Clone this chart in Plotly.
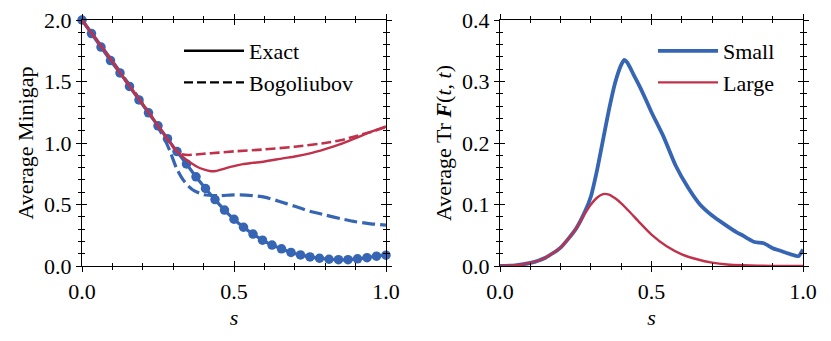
import plotly.graph_objects as go

# ---------------- data ----------------
# Left panel: Average Minigap
blue_exact_s = [k / 32 for k in range(33)]
blue_exact_y = [2.0, 1.89, 1.78, 1.67, 1.57, 1.46, 1.35, 1.245, 1.14, 1.035,
                0.93, 0.83, 0.725, 0.63, 0.54, 0.455, 0.38, 0.315, 0.26, 0.21,
                0.17, 0.14, 0.11, 0.09, 0.074, 0.063, 0.055, 0.051, 0.051,
                0.058, 0.068, 0.08, 0.088]

blue_bog_s = [0, 0.1, 0.2, 0.24, 0.27, 0.29, 0.31, 0.33, 0.35, 0.37, 0.40,
              0.45, 0.5, 0.55, 0.6, 0.65, 0.7, 0.75, 0.8, 0.85, 0.9, 0.95, 1.0]
blue_bog_y = [2.0, 1.665, 1.32, 1.17, 1.04, 0.93, 0.80, 0.71, 0.65, 0.61, 0.58,
              0.572, 0.578, 0.575, 0.56, 0.525, 0.485, 0.445, 0.415, 0.385,
              0.36, 0.343, 0.333]

red_exact_s = [0, 0.05, 0.1, 0.15, 0.2, 0.25, 0.3, 0.32, 0.34, 0.36, 0.38, 0.4,
               0.42, 0.44, 0.46, 0.48, 0.5, 0.53, 0.56, 0.6, 0.66, 0.7, 0.75,
               0.8, 0.85, 0.9, 0.95, 1.0]
red_exact_y = [2.0, 1.83, 1.66, 1.485, 1.315, 1.14, 0.97, 0.915, 0.87, 0.835,
               0.805, 0.785, 0.772, 0.772, 0.785, 0.8, 0.812, 0.828, 0.838,
               0.85, 0.875, 0.89, 0.915, 0.95, 0.99, 1.04, 1.09, 1.135]

red_bog_s = [0, 0.05, 0.1, 0.15, 0.2, 0.25, 0.3, 0.32, 0.35, 0.4, 0.45, 0.5,
             0.6, 0.7, 0.8, 0.85, 0.9, 0.95, 1.0]
red_bog_y = [2.0, 1.83, 1.66, 1.485, 1.315, 1.14, 0.965, 0.915, 0.903, 0.912,
             0.922, 0.932, 0.948, 0.97, 1.0, 1.022, 1.055, 1.09, 1.13]

# Right panel: Average Tr F(t,t)
small_s = [0, 0.05, 0.1, 0.15, 0.2, 0.25, 0.28, 0.3, 0.32, 0.34, 0.36, 0.38,
           0.40, 0.41, 0.42, 0.43, 0.44, 0.46, 0.48, 0.5, 0.54, 0.58, 0.62,
           0.66, 0.7, 0.74, 0.78, 0.8, 0.82, 0.84, 0.87, 0.9, 0.93, 0.96,
           0.985, 1.0]
small_y = [0, 0.001, 0.005, 0.0135, 0.03, 0.06, 0.088, 0.113, 0.155, 0.205,
           0.255, 0.298, 0.327, 0.335, 0.331, 0.322, 0.312, 0.293, 0.272,
           0.25, 0.21, 0.163, 0.128, 0.1, 0.082, 0.068, 0.055, 0.05, 0.044,
           0.039, 0.037, 0.029, 0.024, 0.019, 0.016, 0.027]

large_s = [0, 0.05, 0.1, 0.15, 0.2, 0.25, 0.28, 0.3, 0.32, 0.34, 0.36, 0.38,
           0.4, 0.43, 0.46, 0.5, 0.55, 0.6, 0.65, 0.7, 0.75, 0.8, 0.9, 1.0]
large_y = [0, 0.001, 0.005, 0.0135, 0.03, 0.06, 0.085, 0.1, 0.111, 0.117,
           0.116, 0.11, 0.102, 0.087, 0.071, 0.051, 0.032, 0.019, 0.011,
           0.0055, 0.0025, 0.0012, 0.0002, 0.0]

x_ticks = [0.0, 0.5, 1.0]
left_yticks = [0.0, 0.5, 1.0, 1.5, 2.0]
right_yticks = [0.0, 0.1, 0.2, 0.3, 0.4]

# ---------------- style ----------------
BLUE = "#3565b3"
RED = "#c0324c"
FONT = "Liberation Serif"
FS = 22

fig = go.Figure()

# left panel traces
fig.add_trace(go.Scatter(x=blue_bog_s, y=blue_bog_y, mode="lines",
                         line=dict(color=BLUE, width=3.2, dash="13px,5px", shape="spline", smoothing=0.6),
                         showlegend=False, xaxis="x", yaxis="y"))
fig.add_trace(go.Scatter(x=blue_exact_s, y=blue_exact_y, mode="lines+markers",
                         line=dict(color=BLUE, width=3.2, shape="spline", smoothing=0.6),
                         marker=dict(color=BLUE, size=9.5), cliponaxis=False,
                         showlegend=False, xaxis="x", yaxis="y"))
fig.add_trace(go.Scatter(x=red_bog_s, y=red_bog_y, mode="lines",
                         line=dict(color=RED, width=2.6, dash="10px,4px", shape="spline", smoothing=0.6),
                         showlegend=False, xaxis="x", yaxis="y"))
fig.add_trace(go.Scatter(x=red_exact_s, y=red_exact_y, mode="lines",
                         line=dict(color=RED, width=2.4, shape="spline", smoothing=0.6),
                         showlegend=False, xaxis="x", yaxis="y"))
# legend entries (left)
fig.add_trace(go.Scatter(x=[None], y=[None], mode="lines", name="Exact",
                         line=dict(color="black", width=2.4), legend="legend",
                         xaxis="x", yaxis="y"))
fig.add_trace(go.Scatter(x=[None], y=[None], mode="lines", name="Bogoliubov",
                         line=dict(color="black", width=2.4, dash="9px,4px"), legend="legend",
                         xaxis="x", yaxis="y"))

# right panel traces
fig.add_trace(go.Scatter(x=small_s, y=small_y, mode="lines", name="Small",
                         line=dict(color=BLUE, width=3.8, shape="spline", smoothing=0.6),
                         legend="legend2", xaxis="x2", yaxis="y2"))
fig.add_trace(go.Scatter(x=large_s, y=large_y, mode="lines", name="Large",
                         line=dict(color=RED, width=2.4, shape="spline", smoothing=0.6),
                         legend="legend2", xaxis="x2", yaxis="y2"))

# invisible traces for the overlay (inside-tick) axes
for xa, ya in (("x3", "y3"), ("x4", "y4")):
    fig.add_trace(go.Scatter(x=[None], y=[None], xaxis=xa, yaxis=ya,
                             showlegend=False, hoverinfo="skip"))

W, H = 831, 341
dom_y = [1 - 266 / H, 1 - 20 / H]
dom_x1 = [82 / W, 386 / W]
dom_x2 = [500 / W, 803 / W]

tickfont = dict(family=FONT, size=FS, color="black")


def axis_common(ticks, tickvals, rng, minor_dtick, fmt, show_labels, domain=None):
    d = dict(
        range=rng, tickmode="array", tickvals=tickvals, tickformat=fmt,
        ticks=ticks, ticklen=5, tickwidth=1.2, tickcolor="black",
        showline=True, linecolor="black", linewidth=1.3, mirror="allticks",
        showgrid=False, zeroline=False, showticklabels=show_labels,
        tickfont=tickfont, automargin=False,
        minor=dict(ticks=ticks, ticklen=3, tickwidth=1, tickcolor="black",
                   dtick=minor_dtick, tick0=0, showgrid=False),
    )
    if domain is not None:
        d["domain"] = domain
    return d


title_font = dict(family=FONT, size=FS, color="black")

xaxis = axis_common("outside", x_ticks, [0, 1], 0.1, ".1f", True, dom_x1)
xaxis.update(anchor="y", ticklabelstandoff=0,
             title=dict(text="<i>s</i>", font=title_font, standoff=7))
yaxis = axis_common("outside", left_yticks, [0, 2], 0.1, ".1f", True, dom_y)
yaxis.update(anchor="x", ticklabelstandoff=0,
             title=dict(text="Average Minigap", font=title_font, standoff=4))

xaxis2 = axis_common("outside", x_ticks, [0, 1], 0.1, ".1f", True, dom_x2)
xaxis2.update(anchor="y2", ticklabelstandoff=0,
              title=dict(text="<i>s</i>", font=title_font, standoff=7))
yaxis2 = axis_common("outside", right_yticks, [0, 0.4], 0.02, ".1f", True, dom_y)
yaxis2.update(anchor="x2", ticklabelstandoff=0,
              title=dict(text="Average Tr <b><i>F</i></b>(<i>t</i>, <i>t</i>)",
                         font=title_font, standoff=4))

xaxis3 = axis_common("inside", x_ticks, [0, 1], 0.1, ".1f", False)
xaxis3.update(overlaying="x", anchor="y")
yaxis3 = axis_common("inside", left_yticks, [0, 2], 0.1, ".1f", False)
yaxis3.update(overlaying="y", anchor="x")
xaxis4 = axis_common("inside", x_ticks, [0, 1], 0.1, ".1f", False)
xaxis4.update(overlaying="x2", anchor="y2")
yaxis4 = axis_common("inside", right_yticks, [0, 0.4], 0.02, ".1f", False)
yaxis4.update(overlaying="y2", anchor="x2")

legend_font = dict(family=FONT, size=FS, color="black")

fig.update_layout(
    width=W, height=H,
    margin=dict(l=0, r=0, t=0, b=0),
    paper_bgcolor="white", plot_bgcolor="white",
    font=dict(family=FONT, size=FS, color="black"),
    xaxis=xaxis, yaxis=yaxis, xaxis2=xaxis2, yaxis2=yaxis2,
    xaxis3=xaxis3, yaxis3=yaxis3, xaxis4=xaxis4, yaxis4=yaxis4,
    legend=dict(x=179 / W, y=1 - 30 / H, xanchor="left", yanchor="top",
                bgcolor="rgba(0,0,0,0)", font=legend_font, itemwidth=60,
                tracegroupgap=0),
    legend2=dict(x=653 / W, y=1 - 30 / H, xanchor="left", yanchor="top",
                 bgcolor="rgba(0,0,0,0)", font=legend_font, itemwidth=60,
                 tracegroupgap=0),
    showlegend=True,
)

fig.write_html("out.html", config={"displayModeBar": False},
               post_script="document.body.style.margin='0px';")
